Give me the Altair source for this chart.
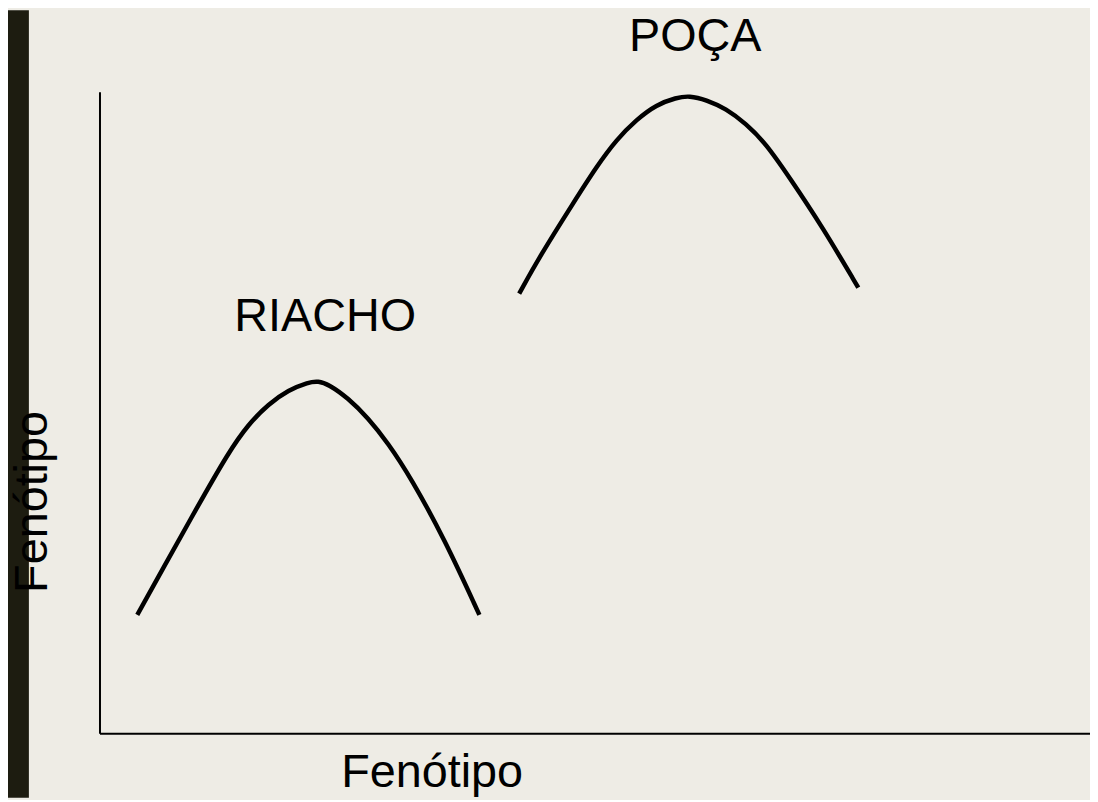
import altair as alt
import pandas as pd

# Curve samples (x: horizontal phenotype units, y: vertical phenotype units)
riacho_x = [38, 63, 97, 130, 150, 170, 190, 210, 220, 230, 250, 270, 290, 313, 347, 382]
riacho_y = [119, 164, 225, 283, 311, 331, 345, 353, 354, 351, 337, 317, 292, 257, 195, 119]
poca_x = [422, 443, 477, 500, 520, 540, 560, 580, 593, 610, 630, 650, 670, 693, 727, 763]
poca_y = [442, 480, 534, 570, 597, 617, 632, 639, 641, 637, 628, 613, 593, 560, 509, 448]

label_names = ["RIACHO", "POÇA"]
label_x = [227, 599]
label_y = [404, 686]

axis_title = "Fenótipo"

W, H = 996, 645
FONT = "Liberation Sans"
FS = 47
BG = "#eeece5"

curves = pd.DataFrame(
    {"x": riacho_x + poca_x,
     "y": riacho_y + poca_y,
     "grupo": ["RIACHO"] * len(riacho_x) + ["POÇA"] * len(poca_x)}
)
labels = pd.DataFrame({"nome": label_names, "x": label_x, "y": label_y})

xs = alt.Scale(domain=[0, W], nice=False, zero=False)
ys = alt.Scale(domain=[0, H], nice=False, zero=False)

lines = alt.Chart(curves).mark_line(
    color="black", strokeWidth=4.5, interpolate="basis"
).encode(
    x=alt.X("x:Q", scale=xs, axis=alt.Axis(
        title=axis_title, domain=True, ticks=False, labels=False, grid=False,
        domainColor="black", domainWidth=2, zindex=1,
        titleFont=FONT, titleFontSize=FS, titleFontWeight="normal", titleColor="black",
        titleX=334, titleY=54, titleAlign="center", titleBaseline="alphabetic")),
    y=alt.Y("y:Q", scale=ys, axis=alt.Axis(
        title=axis_title, domain=True, ticks=False, labels=False, grid=False,
        domainColor="black", domainWidth=2, zindex=1,
        titleFont=FONT, titleFontSize=FS, titleFontWeight="normal", titleColor="black",
        titleX=-53, titleY=412, titleAngle=270, titleAlign="center",
        titleBaseline="alphabetic")),
    detail="grupo:N",
)

texts = alt.Chart(labels).mark_text(
    font=FONT, fontSize=FS, color="black", align="center", baseline="alphabetic"
).encode(
    x=alt.X("x:Q", scale=xs),
    y=alt.Y("y:Q", scale=ys),
    text="nome:N",
)

bar = alt.Chart(pd.DataFrame({"k": [0]})).mark_rect(color="#1d1c10").encode(
    x=alt.value(-92), x2=alt.value(-71), y=alt.value(-82), y2=alt.value(H + 65)
)

chart = alt.layer(bar, lines, texts).properties(
    width=W, height=H,
    padding={"left": 92, "top": 82, "right": 0, "bottom": 65},
    autosize=alt.AutoSizeParams(type="none"),
    background=BG,
).configure_view(stroke=None)

chart.save("out.html", embed_options={"renderer": "svg", "actions": False})
